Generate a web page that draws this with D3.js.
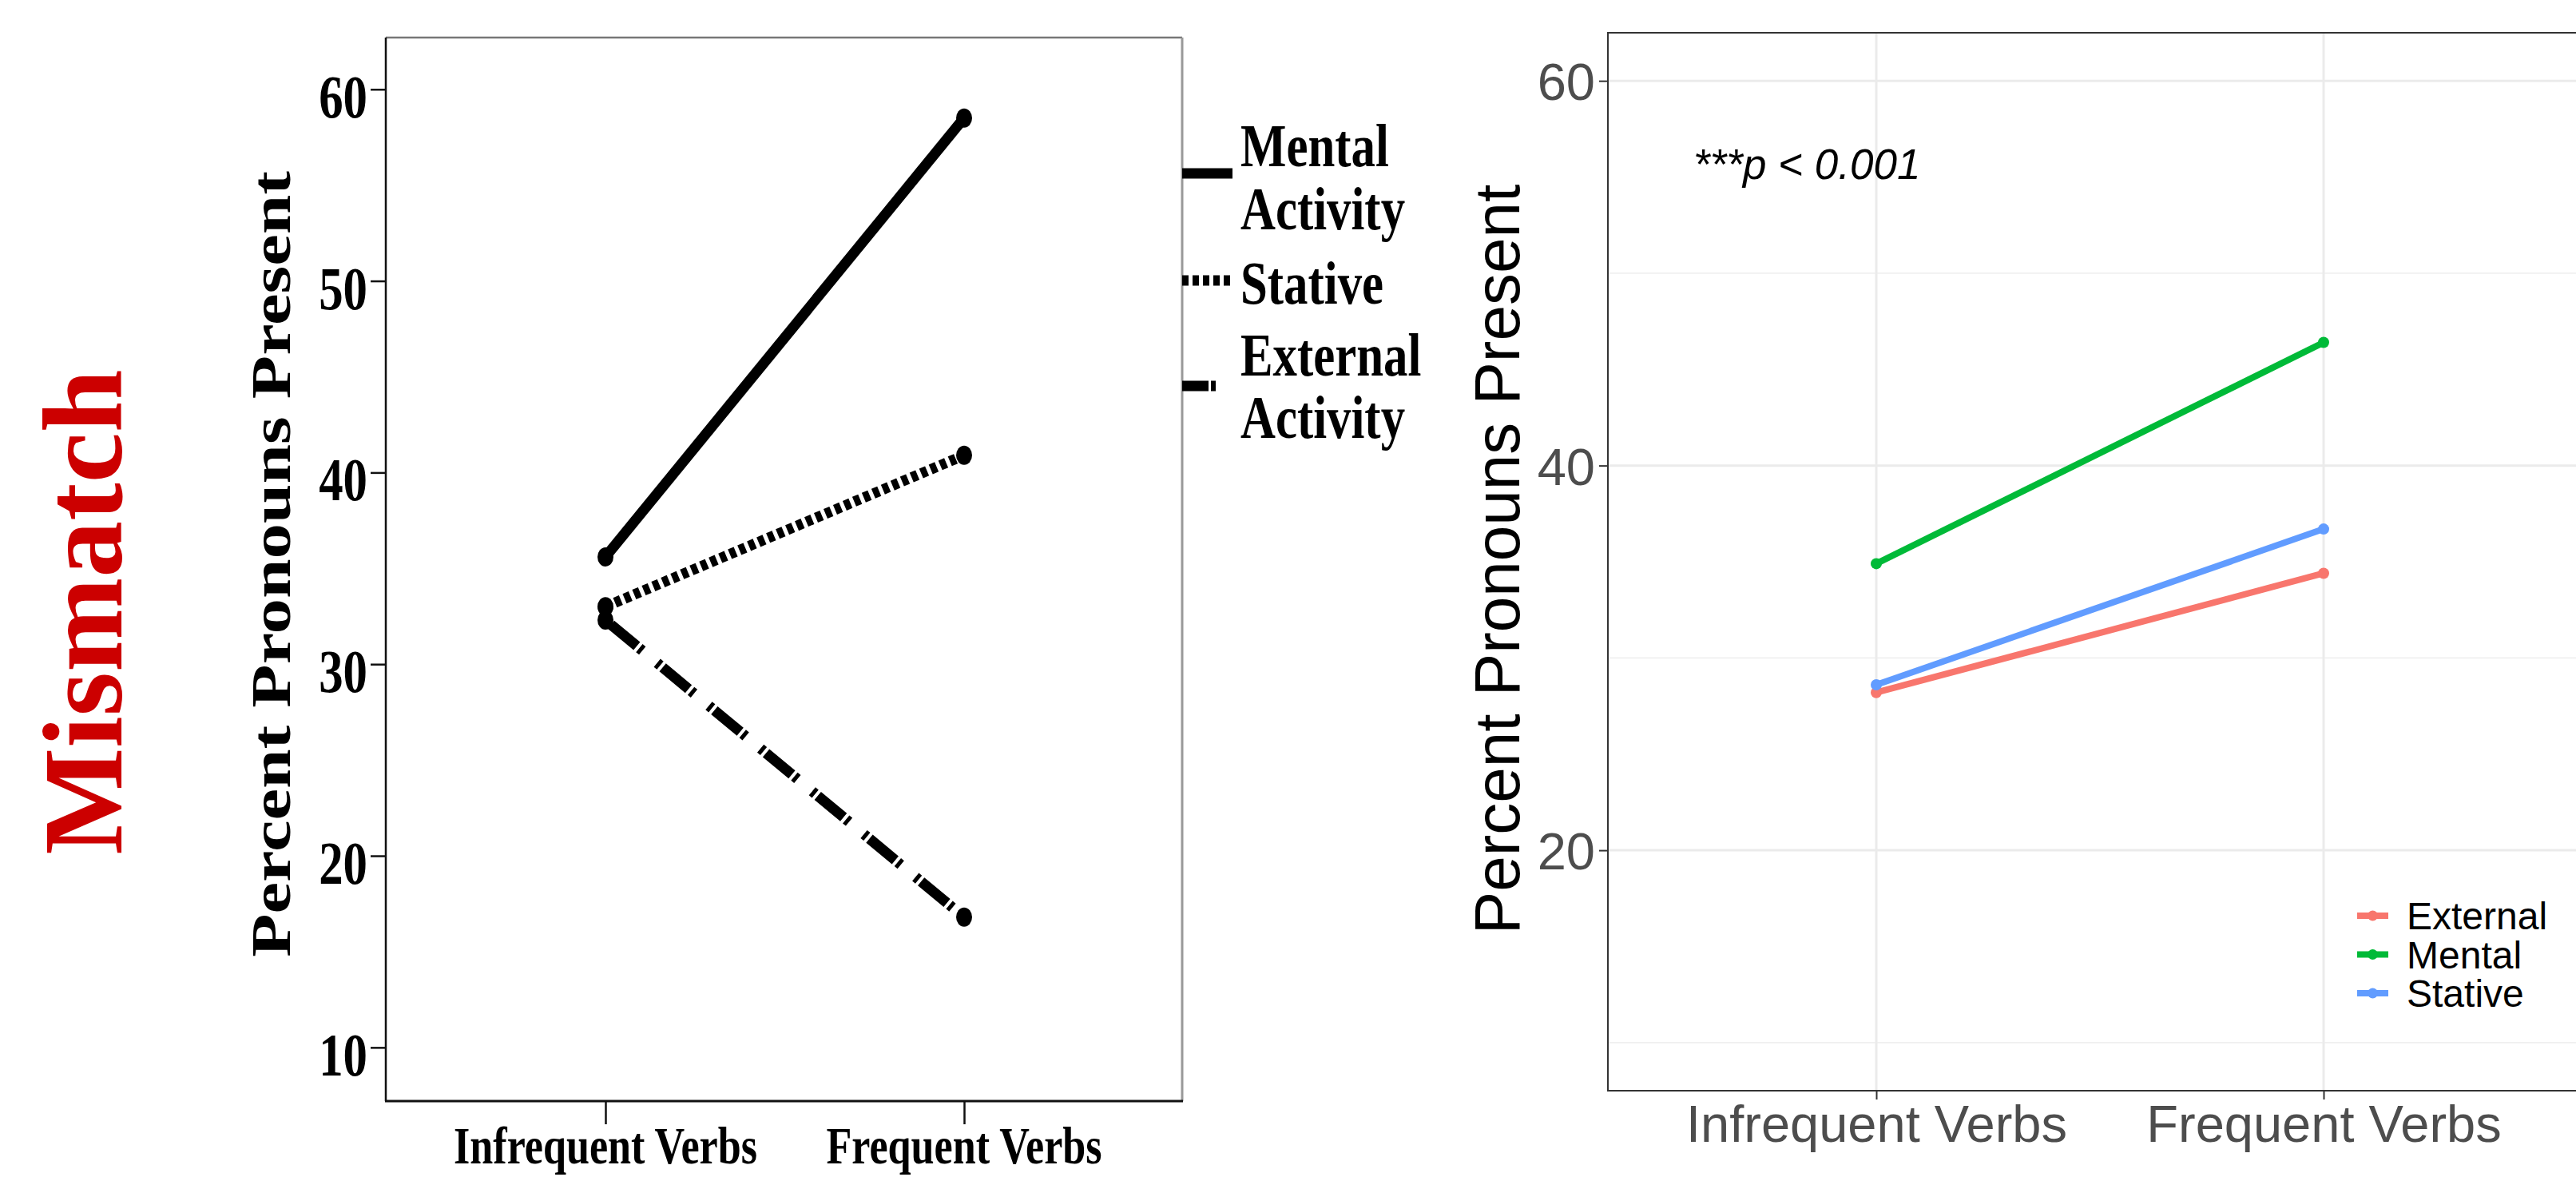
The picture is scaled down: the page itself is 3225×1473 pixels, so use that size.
<!DOCTYPE html>
<html><head><meta charset="utf-8">
<script src="https://cdn.jsdelivr.net/npm/d3@7"></script>
<style>html,body{margin:0;padding:0;background:#fff;overflow:hidden}</style>
</head><body>
<svg id="c" width="3225" height="1473"></svg>
<script>
// ---------- data ----------
const categories = ["Infrequent Verbs", "Frequent Verbs"];
const leftSeriesNames = ["Mental Activity", "Stative", "External Activity"];
const leftMental = [35.6, 58.5];
const leftStative = [33.0, 40.9];
const leftExternal = [32.3, 16.8];
const leftTicks = [10, 20, 30, 40, 50, 60];

const rightSeriesNames = ["External", "Mental", "Stative"];
const rightExternal = [28.2, 34.4];
const rightMental = [34.9, 46.4];
const rightStative = [28.6, 36.7];
const rightTicks = [20, 40, 60];
const rightMinorTicks = [10, 30, 50];
const rightColors = ["#F8766D", "#00BA38", "#619CFF"];
const annotation = "***p < 0.001";

const svg = d3.select("#c");
const serif = "'Liberation Serif','Times New Roman',serif";
const sans = "'Liberation Sans',Arial,sans-serif";

// ---------- left panel ----------
const L = {x0: 483, x1: 1480, y0: 47, y1: 1378};
const xL = d3.scalePoint().domain(categories).range([758, 1207]);
const yL = d3.scaleLinear().domain([7.2, 62.7]).range([L.y1, L.y0]);

// title
svg.append("text").attr("transform", "translate(152,766) rotate(-90)")
  .attr("text-anchor", "middle").attr("font-family", serif).attr("font-weight", "bold")
  .attr("font-size", 142).attr("fill", "#CC0000").text("Mismatch");

// frame
const gL = svg.append("g");
gL.append("line").attr("x1", L.x0).attr("x2", L.x1).attr("y1", L.y0).attr("y2", L.y0).attr("stroke", "#777").attr("stroke-width", 2.5);
gL.append("line").attr("x1", L.x1).attr("x2", L.x1).attr("y1", L.y0).attr("y2", L.y1).attr("stroke", "#999").attr("stroke-width", 3);
gL.append("line").attr("x1", L.x0).attr("x2", L.x0).attr("y1", L.y0).attr("y2", L.y1).attr("stroke", "#111").attr("stroke-width", 2.5);
gL.append("line").attr("x1", L.x0 - 1).attr("x2", L.x1 + 1).attr("y1", L.y1).attr("y2", L.y1).attr("stroke", "#111").attr("stroke-width", 3);

// y ticks
const yAxisL = d3.axisLeft(yL).tickValues(leftTicks).tickSize(19).tickFormat("");
const ya = gL.append("g").attr("transform", `translate(${L.x0},0)`).call(yAxisL);
ya.select(".domain").remove();
ya.selectAll(".tick line").attr("stroke", "#111").attr("stroke-width", 2.5);
leftTicks.forEach(t => {
  gL.append("text").attr("transform", `translate(460,${yL(t) + 35}) scale(0.8,1)`)
    .attr("text-anchor", "end").attr("font-family", serif).attr("font-weight", "bold")
    .attr("font-size", 76).attr("fill", "#000").text(t);
});
// x ticks
const xAxisL = d3.axisBottom(xL).tickSize(29).tickFormat("");
const xa = gL.append("g").attr("transform", `translate(0,${L.y1})`).call(xAxisL);
xa.select(".domain").remove();
xa.selectAll(".tick line").attr("stroke", "#111").attr("stroke-width", 2.5);
categories.forEach(c => {
  gL.append("text").attr("transform", `translate(${xL(c)},1456) scale(0.79,1)`)
    .attr("text-anchor", "middle").attr("font-family", serif).attr("font-weight", "bold")
    .attr("font-size", 66).attr("fill", "#000").text(c);
});
// y label
gL.append("text").attr("transform", "translate(363,706) scale(0.78,1) rotate(-90)")
  .attr("text-anchor", "middle").attr("font-family", serif).attr("font-weight", "bold")
  .attr("font-size", 89).attr("fill", "#000").text("Percent Pronouns Present");

// series
const leftData = [leftMental, leftStative, leftExternal];
const leftDash = [null, "8,5", "5,4,42,4,5,24"];
const lineL = d3.line().x((d, i) => xL(categories[i])).y(d => yL(d));
leftData.forEach((vals, k) => {
  const p = gL.append("path").attr("d", lineL(vals)).attr("fill", "none")
    .attr("stroke", "#000").attr("stroke-width", 13);
  if (leftDash[k]) p.attr("stroke-dasharray", leftDash[k]);
  vals.forEach((v, i) => {
    gL.append("ellipse").attr("cx", xL(categories[i])).attr("cy", yL(v))
      .attr("rx", 10).attr("ry", 12).attr("fill", "#000");
  });
});

// left legend
const legY = [217, 351, 483];
const legEnd = [1543, 1540, 1522];
const legDash = [null, "8,5", "33,3,6,40"];
legY.forEach((y, k) => {
  const l = gL.append("line").attr("x1", L.x1).attr("x2", legEnd[k]).attr("y1", y).attr("y2", y)
    .attr("stroke", "#000").attr("stroke-width", 13);
  if (legDash[k]) l.attr("stroke-dasharray", legDash[k]);
});
const legBaselines = [208, 287, 380, 470, 548];
const legText = [];
leftSeriesNames.forEach(n => n.split(" ").forEach(w => legText.push(w)));
legText.forEach((w, i) => {
  gL.append("text").attr("transform", `translate(1553,${legBaselines[i]}) scale(0.79,1)`)
    .attr("font-family", serif).attr("font-weight", "bold").attr("font-size", 77)
    .attr("fill", "#000").text(w);
});

// ---------- right panel ----------
const R = {x0: 2013, x1: 3260, y0: 41, y1: 1365};
const xR = d3.scalePoint().domain(categories).range([2349, 2909]);
const yR = d3.scaleLinear().domain([7.5, 62.5]).range([R.y1, R.y0]);
const gR = svg.append("g");
gR.append("rect").attr("x", R.x0).attr("y", R.y0).attr("width", R.x1 - R.x0).attr("height", R.y1 - R.y0).attr("fill", "#fff");
rightMinorTicks.forEach(t => gR.append("line").attr("x1", R.x0).attr("x2", R.x1).attr("y1", yR(t)).attr("y2", yR(t)).attr("stroke", "#F0F0F0").attr("stroke-width", 1.8));
rightTicks.forEach(t => gR.append("line").attr("x1", R.x0).attr("x2", R.x1).attr("y1", yR(t)).attr("y2", yR(t)).attr("stroke", "#EBEBEB").attr("stroke-width", 3));
categories.forEach(c => gR.append("line").attr("x1", xR(c)).attr("x2", xR(c)).attr("y1", R.y0).attr("y2", R.y1).attr("stroke", "#EBEBEB").attr("stroke-width", 3));
gR.append("rect").attr("x", R.x0).attr("y", R.y0).attr("width", R.x1 - R.x0).attr("height", R.y1 - R.y0)
  .attr("fill", "none").attr("stroke", "#333").attr("stroke-width", 2);

const yAxisR = d3.axisLeft(yR).tickValues(rightTicks).tickSize(11).tickPadding(5);
const yar = gR.append("g").attr("transform", `translate(${R.x0},0)`).call(yAxisR);
yar.select(".domain").remove();
yar.selectAll(".tick line").attr("stroke", "#333").attr("stroke-width", 2);
yar.selectAll(".tick text").attr("font-family", sans).attr("font-size", 65).attr("fill", "#4D4D4D").attr("dy", "0.36em");

const xAxisR = d3.axisBottom(xR).tickSize(11).tickPadding(6);
const xar = gR.append("g").attr("transform", `translate(0,${R.y1})`).call(xAxisR);
xar.select(".domain").remove();
xar.selectAll(".tick line").attr("stroke", "#333").attr("stroke-width", 2);
xar.selectAll(".tick text").attr("font-family", sans).attr("font-size", 65).attr("fill", "#4D4D4D").attr("dy", "0.72em");

gR.append("text").attr("transform", "translate(1902,700) rotate(-90)").attr("text-anchor", "middle")
  .attr("font-family", sans).attr("font-size", 80).attr("fill", "#000").text("Percent Pronouns Present");

gR.append("text").attr("x", 2120).attr("y", 224).attr("font-family", sans).attr("font-style", "italic")
  .attr("font-size", 53).attr("fill", "#000").text(annotation);

const rightData = [rightExternal, rightMental, rightStative];
const lineR = d3.line().x((d, i) => xR(categories[i])).y(d => yR(d));
rightData.forEach((vals, k) => {
  gR.append("path").attr("d", lineR(vals)).attr("fill", "none").attr("stroke", rightColors[k]).attr("stroke-width", 8);
  vals.forEach((v, i) => gR.append("circle").attr("cx", xR(categories[i])).attr("cy", yR(v)).attr("r", 7).attr("fill", rightColors[k]));
});

// right legend
const rlegY = [1146, 1194.5, 1243];
rightSeriesNames.forEach((n, k) => {
  gR.append("line").attr("x1", 2951).attr("x2", 2990).attr("y1", rlegY[k]).attr("y2", rlegY[k]).attr("stroke", rightColors[k]).attr("stroke-width", 8);
  gR.append("circle").attr("cx", 2970.5).attr("cy", rlegY[k]).attr("r", 6.5).attr("fill", rightColors[k]);
  gR.append("text").attr("x", 3013).attr("y", rlegY[k]).attr("dy", "0.36em").attr("font-family", sans)
    .attr("font-size", 48).attr("fill", "#000").text(n);
});
</script>
</body></html>
